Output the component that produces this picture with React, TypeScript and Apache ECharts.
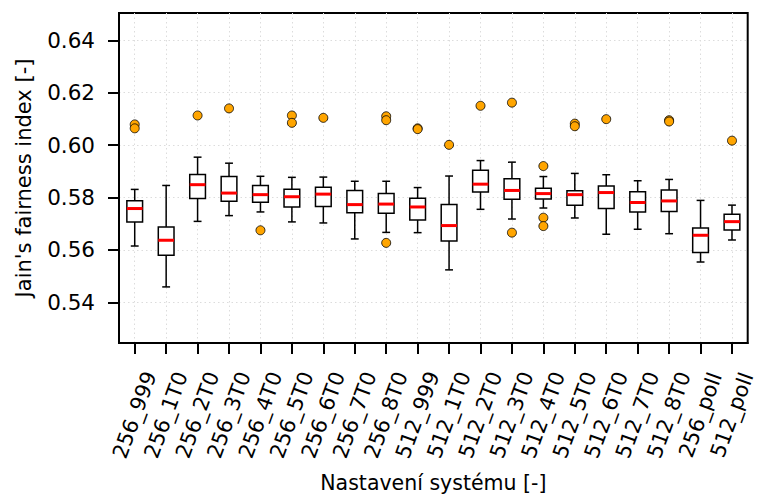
import React, { useEffect, useRef } from "react";
import * as echarts from "echarts";

const categories = [
  "256_999", "256_1T0", "256_2T0", "256_3T0", "256_4T0", "256_5T0", "256_6T0", "256_7T0", "256_8T0",
  "512_999", "512_1T0", "512_2T0", "512_3T0", "512_4T0", "512_5T0", "512_6T0", "512_7T0", "512_8T0",
  "256_poll", "512_poll",
];
const whiskerLow = [0.5615, 0.5459, 0.5709, 0.5731, 0.5745, 0.5707, 0.5703, 0.5642, 0.5667, 0.5666,
  0.5524, 0.5755, 0.5718, 0.5760, 0.5722, 0.5660, 0.5679, 0.5662, 0.5554, 0.5638];
const q1 = [0.5707, 0.5580, 0.5796, 0.5786, 0.5782, 0.5764, 0.5766, 0.5742, 0.5740, 0.5714,
  0.5634, 0.5821, 0.5793, 0.5794, 0.5771, 0.5758, 0.5745, 0.5747, 0.5590, 0.5676];
const medians = [0.5758, 0.5637, 0.5849, 0.5817, 0.5811, 0.5803, 0.5813, 0.5773, 0.5775, 0.5764,
  0.5693, 0.5851, 0.5827, 0.5815, 0.5811, 0.5819, 0.5781, 0.5787, 0.5656, 0.5708];
const q3 = [0.5788, 0.5688, 0.5888, 0.5880, 0.5846, 0.5832, 0.5839, 0.5827, 0.5815, 0.5797,
  0.5773, 0.5904, 0.5872, 0.5835, 0.5826, 0.5844, 0.5822, 0.5829, 0.5684, 0.5736];
const whiskerHigh = [0.5831, 0.5846, 0.5954, 0.5931, 0.5881, 0.5877, 0.5878, 0.5862, 0.5862, 0.5838,
  0.5882, 0.5941, 0.5935, 0.5880, 0.5892, 0.5887, 0.5864, 0.5869, 0.5789, 0.5771];
// [category number (1-based), value]
const outliers: [number, number][] = [
  [1, 0.6079], [1, 0.6064],
  [3, 0.6113],
  [4, 0.6140],
  [5, 0.5675],
  [6, 0.6113], [6, 0.6085],
  [7, 0.6104],
  [9, 0.6110], [9, 0.6095], [9, 0.5627],
  [10, 0.6064], [10, 0.6061],
  [11, 0.6001],
  [12, 0.6150],
  [13, 0.6162], [13, 0.5666],
  [14, 0.5920], [14, 0.5723], [14, 0.5691],
  [15, 0.6082], [15, 0.6072],
  [16, 0.6099],
  [18, 0.6095], [18, 0.6090],
  [20, 0.6017],
];
const yTicks = [0.54, 0.56, 0.58, 0.6, 0.62, 0.64];
const xTicks = categories.map((_, i) => i + 1);

const FONT = "DejaVu Sans";

export default function App() {
  const ref = useRef<HTMLDivElement>(null);
  useEffect(() => {
    if (!ref.current) return;
    const chart = echarts.init(ref.current, undefined, { renderer: "svg" });
    const boxData = categories.map((_, i) => [i + 1, whiskerLow[i], q1[i], medians[i], q3[i], whiskerHigh[i]]);
    chart.setOption({
      animation: false,
      backgroundColor: "#fff",
      textStyle: { fontFamily: FONT },
      grid: { left: 119, right: 6, top: 13, bottom: 154, show: true, borderColor: "#000", borderWidth: 2, backgroundColor: "transparent" },
      xAxis: {
        type: "value",
        min: 0.5,
        max: 20.5,
        splitNumber: 20,
        name: "Nastavení systému [-]",
        nameLocation: "middle",
        nameGap: 129,
        nameTextStyle: { fontSize: 20.5, color: "#000", fontFamily: FONT },
        axisLine: { show: true, lineStyle: { color: "#000", width: 2 } },
        axisTick: { show: true, customValues: xTicks, length: 11, lineStyle: { color: "#000", width: 2 } },
        axisLabel: {
          customValues: xTicks,
          formatter: (v: number) => categories[Math.round(v) - 1] ?? "",
          rotate: 70,
          align: "center",
          verticalAlign: "middle",
          margin: 72,
          fontSize: 21,
          color: "#000",
          fontFamily: FONT,
        },
        splitLine: { show: true, lineStyle: { color: "#dcdcdc", width: 1, type: [1.5, 3] } },
      },
      yAxis: {
        type: "value",
        min: 0.5245,
        max: 0.6504,
        splitNumber: 6,
        name: "Jain's fairness index [-]",
        nameLocation: "middle",
        nameGap: 85,
        nameTextStyle: { fontSize: 21, color: "#000", fontFamily: FONT },
        axisLine: { show: true, lineStyle: { color: "#000", width: 2 } },
        axisTick: { show: true, customValues: yTicks, length: 11, lineStyle: { color: "#000", width: 2 } },
        axisLabel: {
          customValues: yTicks,
          formatter: (v: number) => v.toFixed(2),
          margin: 24,
          fontSize: 21.5,
          color: "#000",
          fontFamily: FONT,
        },
        splitLine: { show: true, lineStyle: { color: "#dcdcdc", width: 1, type: [1.5, 3] } },
      },
      series: [
        {
          type: "custom",
          clip: false,
          encode: { x: 0, y: [1, 2, 3, 4, 5] },
          data: boxData,
          z: 2,
          renderItem: (params: any, api: any) => {
            const x = api.value(0);
            const pLo = api.coord([x, api.value(1)]);
            const pQ1 = api.coord([x, api.value(2)]);
            const pMed = api.coord([x, api.value(3)]);
            const pQ3 = api.coord([x, api.value(4)]);
            const pHi = api.coord([x, api.value(5)]);
            const band = api.size([1, 0])[0];
            const bw = band * 0.5;
            const cw = band * 0.25;
            const cx = pMed[0];
            const stroke = { stroke: "#000", lineWidth: 1.5, fill: "none" };
            return {
              type: "group",
              children: [
                { type: "line", shape: { x1: cx, y1: pLo[1], x2: cx, y2: pQ1[1] }, style: stroke },
                { type: "line", shape: { x1: cx, y1: pQ3[1], x2: cx, y2: pHi[1] }, style: stroke },
                { type: "line", shape: { x1: cx - cw / 2, y1: pLo[1], x2: cx + cw / 2, y2: pLo[1] }, style: stroke },
                { type: "line", shape: { x1: cx - cw / 2, y1: pHi[1], x2: cx + cw / 2, y2: pHi[1] }, style: stroke },
                { type: "rect", shape: { x: cx - bw / 2, y: pQ3[1], width: bw, height: pQ1[1] - pQ3[1] }, style: { stroke: "#000", lineWidth: 1.5, fill: "#fff" } },
                { type: "line", shape: { x1: cx - bw / 2, y1: pMed[1], x2: cx + bw / 2, y2: pMed[1] }, style: { stroke: "#ff0000", lineWidth: 3 } },
              ],
            };
          },
        },
        {
          type: "scatter",
          data: outliers,
          symbol: "circle",
          symbolSize: 9,
          z: 3,
          itemStyle: { color: "#FFA500", borderColor: "#000", borderWidth: 0.8, opacity: 1 },
        },
      ],
    });
    return () => chart.dispose();
  }, []);
  return <div ref={ref} style={{ position: "fixed", left: 0, top: 0, width: 758, height: 498 }} />;
}
